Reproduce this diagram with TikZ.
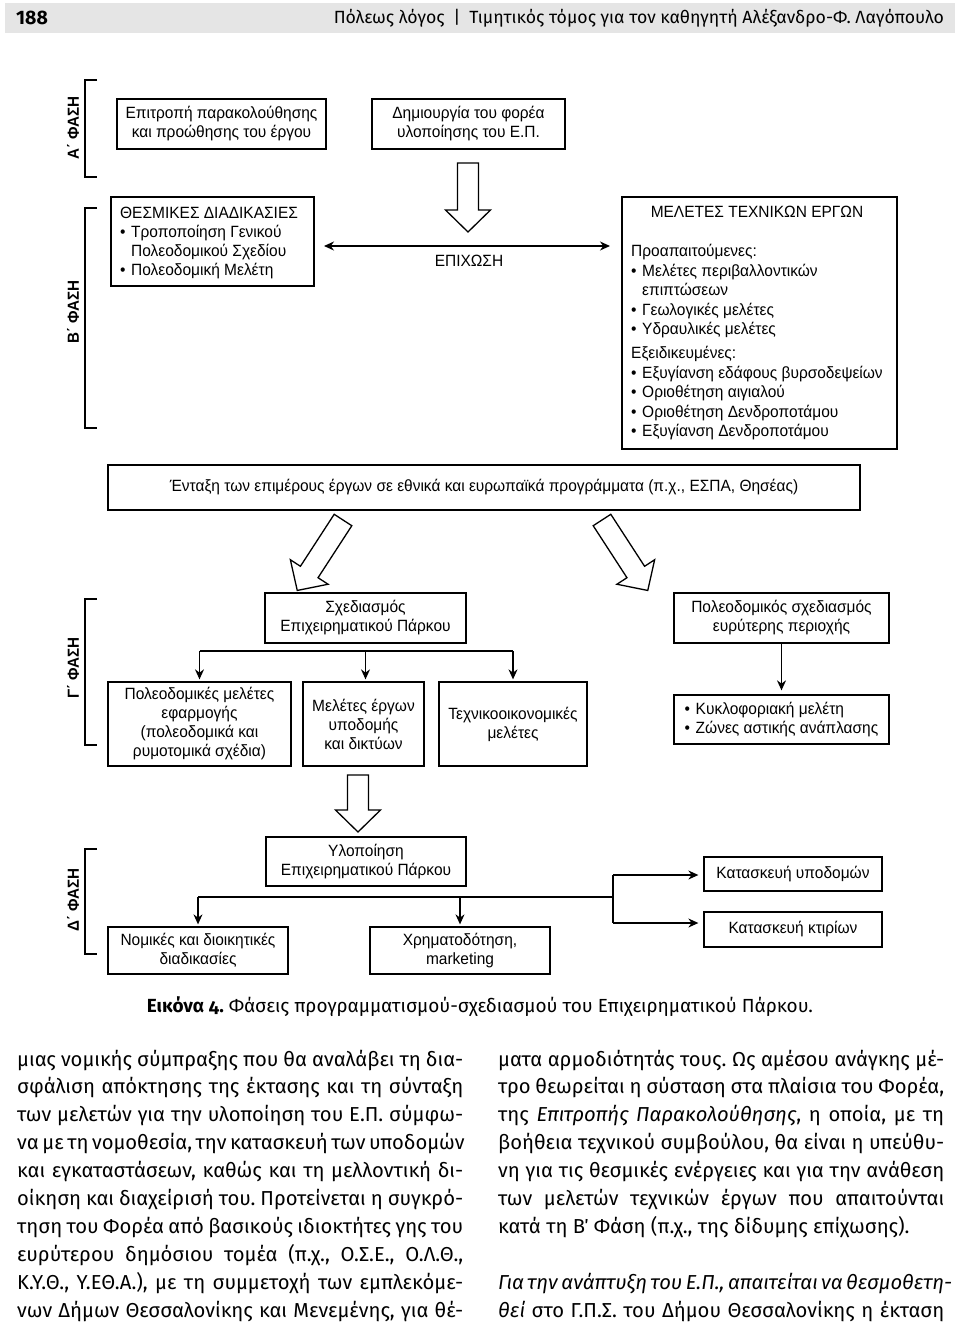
\documentclass[tikz,border=0pt]{standalone}
\usepackage{fontspec}
\usepackage{graphicx}
\setmainfont[FakeStretch=0.95]{Liberation Sans}
\newfontfamily\fira{Fira Sans}
\newfontfamily\firaonum[Numbers=OldStyle]{Fira Sans}
\usetikzlibrary{arrows.meta}
\frenchspacing
\newcommand\dg{\fontsize{16.3}{19}\selectfont}
\newcommand\bul{\makebox[11pt][l]{•}}
\newcommand\hollowshape[1]{\draw[hollow] (-10.5,0) -- (10.5,0) -- (10.5,#1) -- (22.5,#1) -- (0,#1+22) -- (-22.5,#1) -- (-10.5,#1) -- cycle;}
\begin{document}
\begin{tikzpicture}[x=1pt,y=-1pt,
  box/.style={draw, line width=1.3pt, inner sep=0pt, align=center, font=\dg},
  txt/.style={inner sep=0pt, font=\dg},
  arr/.style={line width=1.3pt, -{Stealth[length=10pt,width=9pt]}},
  darr/.style={line width=1.3pt, {Stealth[length=10pt,width=9pt]}-{Stealth[length=10pt,width=9pt]}},
  ln/.style={line width=1.3pt},
  brk/.style={line width=1.6pt},
  hollow/.style={draw, line width=1.3pt, fill=white, line join=miter},
  phase/.style={font=\fontsize{16}{16}\selectfont\bfseries, rotate=90, inner sep=0pt},
  body/.style={anchor=base west, inner sep=0pt, font=\fira\fontsize{20.2}{28}\selectfont}
]
\useasboundingbox (0,0) rectangle (960,1327);
\fill[white] (0,0) rectangle (960,1327);

% header
\fill[black!10] (5,3) rectangle (955,33);
\node[anchor=west, inner sep=0pt] (pg) at (16,18) {\fira\bfseries\fontsize{19.5}{19.5}\selectfont 188};
\node[anchor=east, inner sep=0pt] (hd) at (944,18) {\resizebox{610pt}{!}{\fira\fontsize{17}{17}\selectfont Πόλεως λόγος\enspace|\enspace Τιμητικός τόμος για τον καθηγητή Αλέξανδρο-Φ. Λαγόπουλο}};

% phase labels and brackets
\node[phase] (pA) at (73,128) {Α΄ ΦΑΣΗ};
\node[phase] (pB) at (73,312) {Β΄ ΦΑΣΗ};
\node[phase] (pC) at (73,668) {Γ΄ ΦΑΣΗ};
\node[phase] (pD) at (73,900) {Δ΄ ΦΑΣΗ};
\draw[brk] (97,80) -- (85,80) -- (85,177) -- (97,177);
\draw[brk] (97,208) -- (85,208) -- (85,428) -- (97,428);
\draw[brk] (97,599) -- (85,599) -- (85,745) -- (97,745);
\draw[brk] (97,849) -- (85,849) -- (85,954) -- (97,954);

% phase A
\node[box, minimum width=209, minimum height=50] (A1) at (221.5,124) {Επιτροπή παρακολούθησης\\και προώθησης του έργου};
\node[box, minimum width=193, minimum height=50] (A2) at (468.5,124) {Δημιουργία του φορέα\\υλοποίησης του Ε.Π.};
\begin{scope}[shift={(468,163)}]\hollowshape{47}\end{scope}

% phase B
\node[box, minimum width=203, minimum height=89] (B1) at (212.5,241.5) {};
\foreach \yy/\tt [count=\i] in {218.5/{ΘΕΣΜΙΚΕΣ ΔΙΑΔΙΚΑΣΙΕΣ}, 237.5/{\bul Τροποποίηση Γενικού}, 256.5/{\hspace*{11pt}Πολεοδομικού Σχεδίου}, 275.5/{\bul Πολεοδομική Μελέτη}}
  \node[txt, anchor=base west] (b1t\i) at (120,\yy) {\tt};
\node[box, minimum width=275, minimum height=252] (B2) at (759.5,323) {};
\node[txt] (b2h) at (757,212) {ΜΕΛΕΤΕΣ ΤΕΧΝΙΚΩΝ ΕΡΓΩΝ};
\foreach \yy/\tt [count=\i] in {256.5/{Προαπαιτούμενες:}, 276/{\bul Μελέτες περιβαλλοντικών}, 295.5/{\hspace*{11pt}επιπτώσεων}, 315/{\bul Γεωλογικές μελέτες}, 334.5/{\bul Υδραυλικές μελέτες}, 358.5/{Εξειδικευμένες:}, 378/{\bul Εξυγίανση εδάφους βυρσοδεψείων}, 397.5/{\bul Οριοθέτηση αιγιαλού}, 417/{\bul Οριοθέτηση Δενδροποτάμου}, 436.5/{\bul Εξυγίανση Δενδροποτάμου}}
  \node[txt, anchor=base west] (b2t\i) at (631,\yy) {\tt};
\coordinate (ea) at (324,246);
\coordinate (eb) at (610,246);
\draw[darr] (ea) -- (eb);
\node[txt] (epx) at (469,261) {ΕΠΙΧΩΣΗ};

% integration box
\node[box, minimum width=752, minimum height=45] (EN) at (484,487.5) {Ένταξη των επιμέρους έργων σε εθνικά και ευρωπαϊκά προγράμματα (π.χ., ΕΣΠΑ, Θησέας)};
\begin{scope}[shift={(343,520)}, rotate=-33]\hollowshape{62}\end{scope}
\begin{scope}[shift={(602,520)}, rotate=33]\hollowshape{62}\end{scope}

% phase C
\node[box, minimum width=201, minimum height=50] (S) at (365.5,618) {Σχεδιασμός\\Επιχειρηματικού Πάρκου};
\node[box, minimum width=215, minimum height=50] (P) at (781.5,618) {Πολεοδομικός σχεδιασμός\\ευρύτερης περιοχής};
\node[box, minimum width=183, minimum height=84] (G1) at (199.5,724) {Πολεοδομικές μελέτες\\εφαρμογής\\(πολεοδομικά και\\ρυμοτομικά σχέδια)};
\node[box, minimum width=121, minimum height=84] (G2) at (363.5,724) {Μελέτες έργων\\υποδομής\\και δικτύων};
\node[box, minimum width=148, minimum height=84] (G3) at (513,724) {Τεχνικοοικονομικές\\μελέτες};
\node[box, minimum width=215, minimum height=49, align=left, font=\fontsize{16.3}{18.5}\selectfont] (K) at (781.5,719.5) {\bul Κυκλοφοριακή μελέτη\\\bul Ζώνες αστικής ανάπλασης};
\coordinate (gbar) at (0,651);
\draw[ln] (G1.north |- gbar) -- (G3.north |- gbar);
\draw[arr, shorten >=2pt] (G1.north |- gbar) -- (G1.north);
\draw[arr, shorten >=2pt] (S.south |- gbar) -- (S.south |- G2.north);
\draw[arr, shorten >=2pt] (G3.north |- gbar) -- (G3.north);
\draw[arr, shorten >=4pt] (P.south) -- (K.north);
\begin{scope}[shift={(358,775)}]\hollowshape{35}\end{scope}

% phase D
\node[box, minimum width=200, minimum height=49] (Y) at (366,861.5) {Υλοποίηση\\Επιχειρηματικού Πάρκου};
\node[box, minimum width=180, minimum height=47] (N) at (198,950.5) {Νομικές και διοικητικές\\διαδικασίες};
\node[box, minimum width=180, minimum height=47] (X) at (460,950.5) {Χρηματοδότηση,\\marketing};
\node[box, minimum width=178, minimum height=34] (KU) at (793,874) {Κατασκευή υποδομών};
\node[box, minimum width=178, minimum height=35] (KK) at (793,929.5) {Κατασκευή κτιρίων};
\coordinate (dbar) at (0,897);
\coordinate (dj) at (613,897);
\coordinate (dj1) at (613,875);
\coordinate (dj2) at (613,923);
\draw[ln] (N.north |- dbar) -- (dj);
\draw[ln] (dj1) -- (dj2);
\draw[arr, shorten >=2pt] (N.north |- dbar) -- (N.north);
\draw[arr, shorten >=2pt] (X.north |- dbar) -- (X.north);
\draw[arr, shorten >=5pt] (dj1) -- (dj1 -| KU.west);
\draw[arr, shorten >=5pt] (dj2) -- (dj2 -| KK.west);

% caption
\node[inner sep=0pt] (cap) at (480,1007) {\resizebox{666pt}{!}{\fontsize{18}{18}\selectfont{\firaonum\bfseries Εικόνα 4.} {\firaonum Φάσεις προγραμματισμού-σχεδιασμού του Επιχειρηματικού Πάρκου.}}};

% body text
\foreach \tt [count=\i from 0] in {
 {μιας νομικής σύμπραξης που θα αναλάβει τη δια-},
 {σφάλιση απόκτησης της έκτασης και τη σύνταξη},
 {των μελετών για την υλοποίηση του Ε.Π. σύμφω-},
 {να με τη νομοθεσία, την κατασκευή των υποδομών},
 {και εγκαταστάσεων, καθώς και τη μελλοντική δι-},
 {οίκηση και διαχείρισή του. Προτείνεται η συγκρό-},
 {τηση του Φορέα από βασικούς ιδιοκτήτες γης του},
 {ευρύτερου δημόσιου τομέα (π.χ., Ο.Σ.Ε., Ο.Λ.Θ.,},
 {Κ.Υ.Θ., Υ.ΕΘ.Α.), με τη συμμετοχή των εμπλεκόμε-},
 {νων Δήμων Θεσσαλονίκης και Μενεμένης, για θέ-}}
  \node[body] (bl\i) at (17,{1066+27.9*\i}) {\makebox[446pt][s]{\tt}};
\foreach \tt [count=\i from 0] in {
 {ματα αρμοδιότητάς τους. Ως αμέσου ανάγκης μέ-},
 {τρο θεωρείται η σύσταση στα πλαίσια του Φορέα,},
 {της \textit{Επιτροπής Παρακολούθησης}, η οποία, με τη},
 {βοήθεια τεχνικού συμβούλου, θα είναι η υπεύθυ-},
 {νη για τις θεσμικές ενέργειες και για την ανάθεση},
 {των μελετών τεχνικών έργων που απαιτούνται}}
  \node[body] (br\i) at (498,{1066+27.9*\i}) {\makebox[446pt][s]{\tt}};
\node[body] (br6) at (498,{1066+27.9*6}) {κατά τη Β΄ Φάση (π.χ., της δίδυμης επίχωσης).};
\node[body] (br7) at (498,{1066+27.9*8}) {\makebox[446pt][s]{\itshape Για την ανάπτυξη του Ε.Π., απαιτείται να θεσμοθετη-}};
\node[body] (br8) at (498,{1066+27.9*9}) {\makebox[446pt][s]{\textit{θεί} στο Γ.Π.Σ. του Δήμου Θεσσαλονίκης η έκταση}};
\end{tikzpicture}
\end{document}
